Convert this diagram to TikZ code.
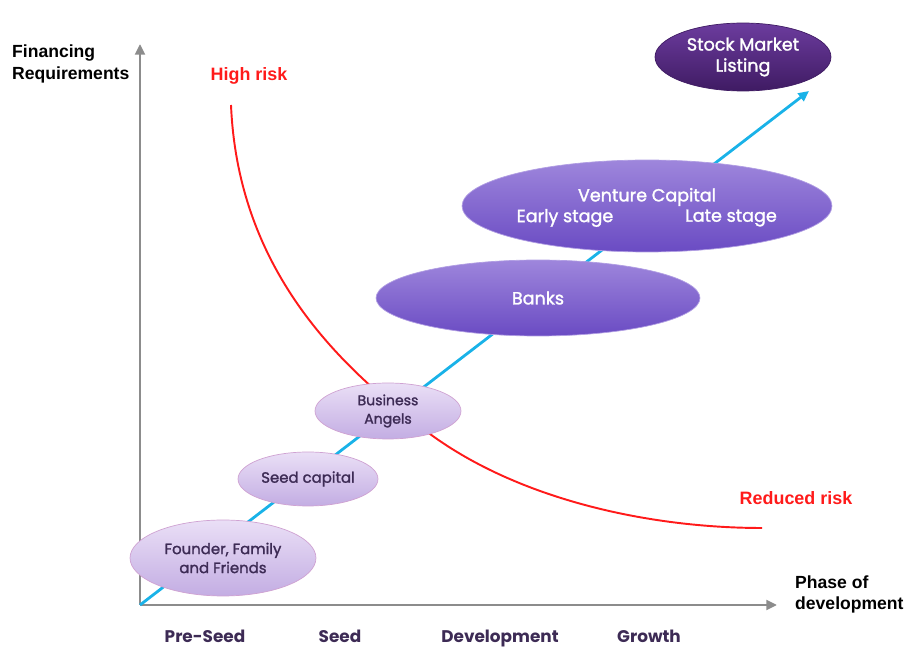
\documentclass[tikz,border=0pt]{standalone}
\usepackage{fontspec}
\setsansfont{Liberation Sans}
\newfontfamily\gothic[FakeBold=1.5]{Poppins}
\newfontfamily\gothicbold{Poppins Bold}
\usepackage{tikz}
\usetikzlibrary{shapes.geometric,arrows.meta,positioning}

\definecolor{axisgray}{HTML}{8C8C8C}
\definecolor{growthblue}{HTML}{19B2E8}
\definecolor{riskred}{HTML}{FF1A1A}
\definecolor{lavtop}{HTML}{EADFF6}
\definecolor{lavbot}{HTML}{C3ADE3}
\definecolor{lavline}{HTML}{CFA2D2}
\definecolor{midtop}{HTML}{9E86DC}
\definecolor{midbot}{HTML}{6A4BC3}
\definecolor{deeptop}{HTML}{6C3C9E}
\definecolor{deepbot}{HTML}{3F1B63}
\definecolor{inkpurple}{HTML}{3D2B55}

\begin{document}
\begin{tikzpicture}[
            x=0.02cm, y=-0.02cm,
            axis/.style={draw=axisgray, line width=1.6pt, -{Triangle[length=6pt, width=5.5pt]}},
            growth/.style={draw=growthblue, line width=1.6pt, -{Triangle[length=6pt, width=5.5pt]}},
            risk/.style={draw=riskred, line width=1.1pt},
            lightell/.style={ellipse, draw=lavline, line width=0.4pt, top color=lavtop, bottom color=lavbot,
                inner sep=0pt, align=center, text=inkpurple, font=\gothic\fontsize{8.5}{10.8}\selectfont},
            midell/.style={ellipse, draw=midtop!80!white, line width=0.4pt, top color=midtop, bottom color=midbot,
                inner sep=0pt, align=center, text=white, font=\gothic\fontsize{10}{12}\selectfont},
            vctext/.style={inner sep=0pt, text=white, font=\gothic\fontsize{10}{12}\selectfont},
            deepell/.style={ellipse, draw=deepbot, line width=0.4pt, top color=deeptop, bottom color=deepbot,
                inner sep=0pt, align=center, text=white, font=\gothic\fontsize{10}{12}\selectfont},
            axislabel/.style={align=left, anchor=west, font=\sffamily\bfseries\fontsize{10}{12}\selectfont},
            risklabel/.style={text=riskred, font=\sffamily\bfseries\fontsize{10.2}{12}\selectfont},
            phase/.style={text=inkpurple, text height=7pt, text depth=2pt, font=\gothicbold\fontsize{9.6}{12}\selectfont}
        ]
            \useasboundingbox (0,0) rectangle (907,648);

            % axes
            \coordinate (O) at (140,605);
            \coordinate (ytop) at (140,44);
            \coordinate (xend) at (777,605);
            \draw[axis] (O) -- (ytop);
            \draw[axis] (O) -- (xend);

            \node[axislabel] (finreq) at (6,64) {Financing\\Requirements};
            \node[axislabel] (phasedev) at (789,594) {Phase of\\development};

            % growth line
            \coordinate (peak) at (809,91);
            \draw[growth] (O) -- (peak);

            % risk curve
            \coordinate (riskstart) at (231,105);
            \coordinate (riskend) at (762,528);
            \draw[risk] (riskstart) .. controls (238,270) and (340,368) .. (430,434)
                .. controls (520,500) and (650,528) .. (riskend);
            \node[risklabel] (highrisk) at (249,76) {High risk};
            \node[risklabel] (lowrisk) at (796,498) {Reduced risk};

            % financing sources
            \node[lightell, minimum width=3.72cm, minimum height=1.52cm] (founder) at (223,558) {Founder, Family\\and Friends};
            \node[lightell, minimum width=2.8cm, minimum height=1.08cm] (seedcap) at (308,479) {Seed capital};
            \node[lightell, minimum width=2.92cm, minimum height=1.12cm, font=\gothic\fontsize{8}{10.5}\selectfont] (angels) at (388,411) {Business\\Angels};
            \node[midell, minimum width=6.48cm, minimum height=1.52cm] (banks) at (538,298) {Banks};
            \node[midell, minimum width=7.4cm, minimum height=1.84cm] (vc) at (647,206) {};
            \node[vctext] (vctitle) at (647,197) {Venture Capital};
            \node[vctext] (early) at (565,218) {Early stage};
            \node[vctext] (late) at (731,218) {Late stage};
            \node[deepell, minimum width=3.52cm, minimum height=1.36cm] (stock) at (743,57) {Stock Market\\Listing};

            % phases
            \node[phase] (preseed) at (205,638) {Pre-Seed};
            \node[phase] (seed) at (340,638) {Seed};
            \node[phase] (devel) at (500,638) {Development};
            \node[phase] (grow) at (649,638) {Growth};
        \end{tikzpicture}
\end{document}
